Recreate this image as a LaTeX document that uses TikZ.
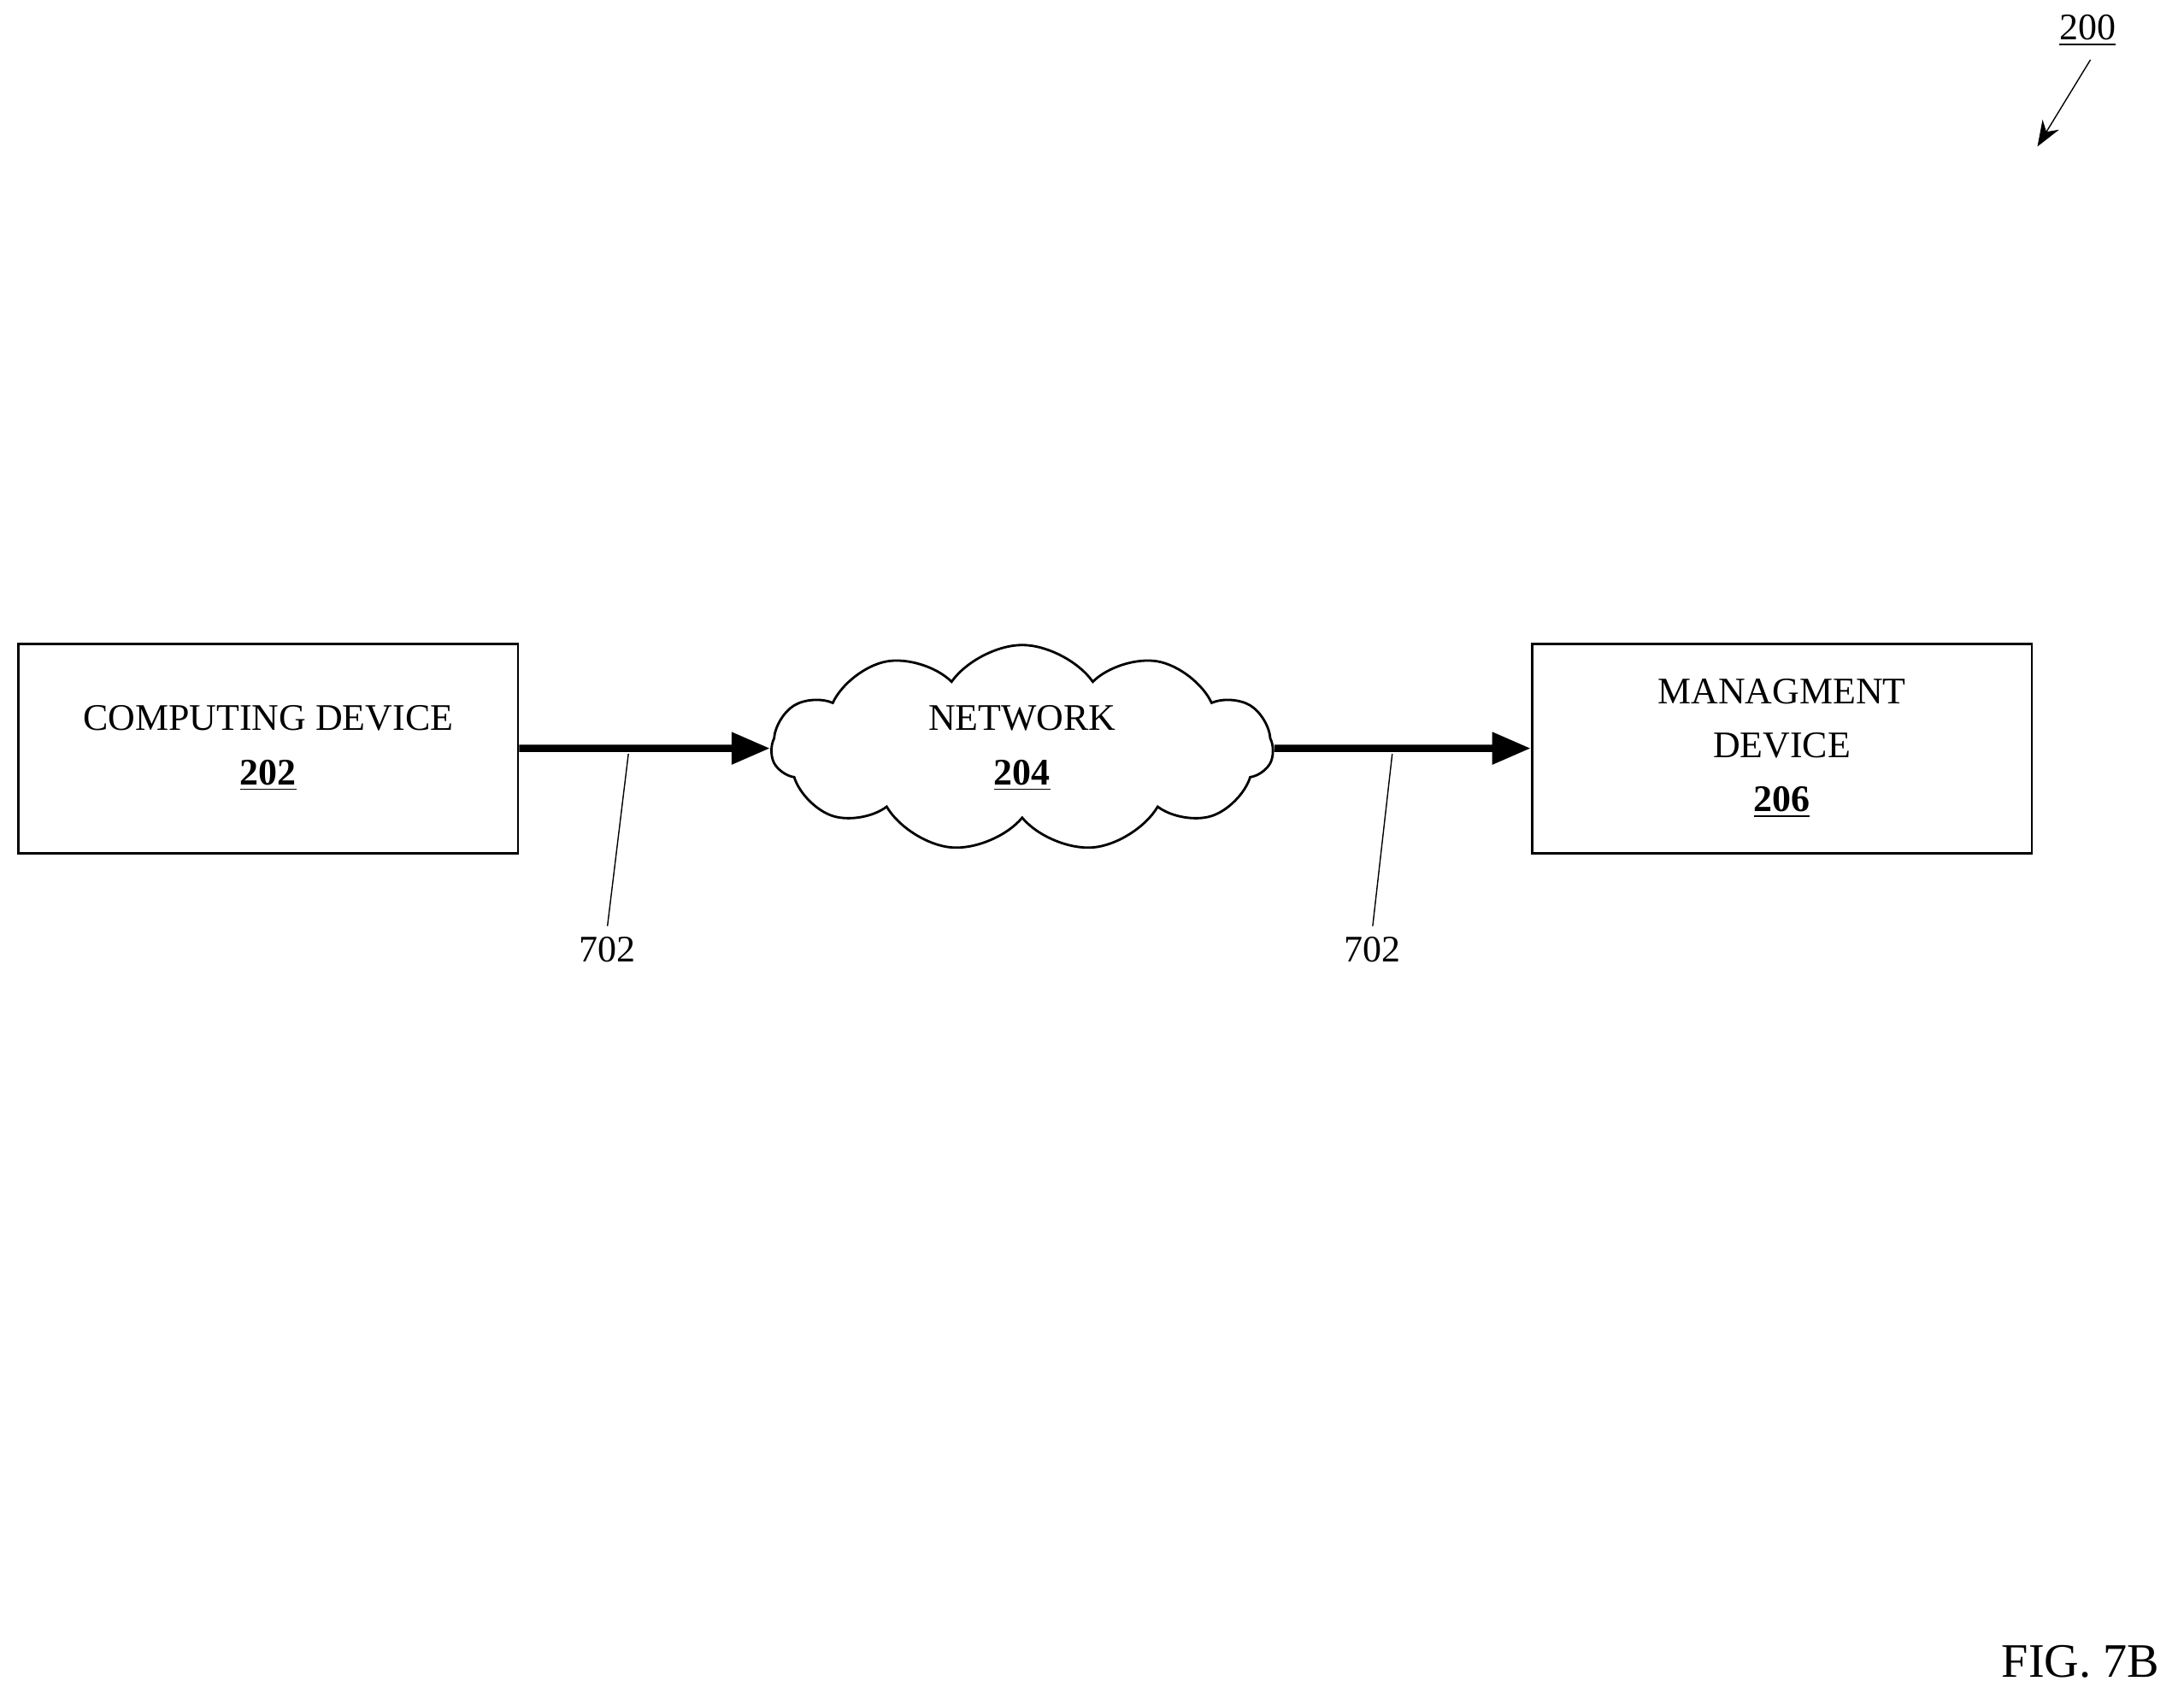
\documentclass[tikz,border=0pt]{standalone}
\usepackage{fontspec}
\setmainfont{Liberation Serif}
\usetikzlibrary{shapes.symbols, arrows.meta, positioning}

\begin{document}
\begin{tikzpicture}[
    x=0.01634cm, y=-0.01634cm,
    % Node Styles
    devbox/.style={draw=black, thick, minimum width=358*0.01634cm, minimum height=150*0.01634cm, align=center, font=\fontsize{12.5}{18}\selectfont},
    netcloud/.style={cloud, draw=black, thick, cloud puffs=11, cloud puff arc=110, aspect=2.4, minimum width=359*0.01634cm, minimum height=148*0.01634cm, align=center, font=\fontsize{12.5}{18}\selectfont, inner sep=0pt},
    numlabel/.style={font=\fontsize{12.5}{15}\selectfont},
    % Edge Styles
    linkarrow/.style={-{Triangle[length=4.5mm, width=3.6mm]}, line width=2.4pt},
    leader/.style={thin}
]
\useasboundingbox (0,0) rectangle (1564,1212.5);

% Main blocks
\node[devbox] (comp) at (192,536) {COMPUTING DEVICE\\\textbf{\underline{202}}};
\node[netcloud] (net) at (732,536) {NETWORK\\\textbf{\underline{204}}};
\node[devbox] (mgmt) at (1276,536) {MANAGMENT\\DEVICE\\\textbf{\underline{206}}};

% Connections
\draw[linkarrow] (comp.east) -- (net.west);
\draw[linkarrow] (net.east) -- (mgmt.west);

% Reference numerals
\node[numlabel] (lbl-a) at (435,680) {702};
\node[numlabel] (lbl-b) at (983,680) {702};
\coordinate (tip-a) at (450,540);
\coordinate (tip-b) at (997,540);
\draw[leader] (tip-a) -- (lbl-a.north);
\draw[leader] (tip-b) -- (lbl-b.north);

\node[numlabel] (fig-num) at (1495,22) {\underline{200}};
\coordinate (fig-tip) at (1459,105);
\draw[thin, -{Stealth[length=3mm]}] (fig-num.south) ++(2,2) -- (fig-tip);

\node[font=\fontsize{16}{18}\selectfont] (caption) at (1490,1190) {FIG. 7B};
\end{tikzpicture}
\end{document}
